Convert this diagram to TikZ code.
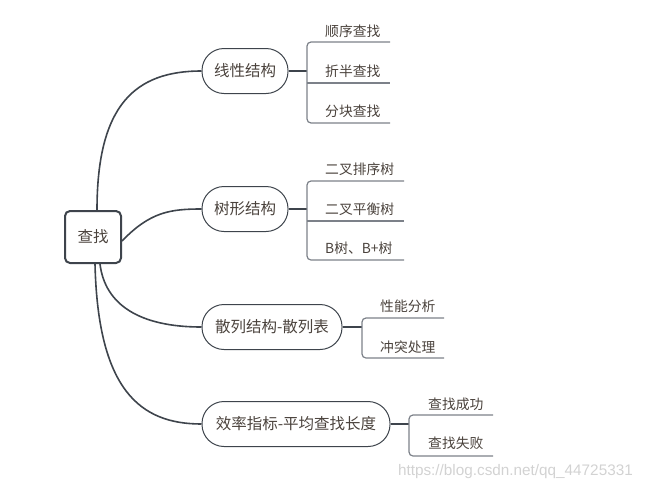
\documentclass[tikz,border=0pt]{standalone}
\usepackage{fontspec}
\setmainfont{Noto Sans CJK SC}
\newfontfamily\wmfont{Liberation Sans}
\definecolor{linec}{HTML}{3E444C}
\definecolor{leafc}{HTML}{7C8189}
\definecolor{txtc}{HTML}{4A423C}
\definecolor{wmc}{HTML}{D2D2D2}
\begin{document}
\begin{tikzpicture}[x=1pt,y=-1pt,
  rootbox/.style={draw=linec, line width=2pt, rounded corners=5pt, minimum width=56pt, minimum height=52pt, inner sep=0pt, text=txtc, font=\fontsize{15.5}{18}\selectfont},
  pill/.style={draw=linec, line width=1pt, rounded corners=22pt, minimum height=45pt, inner sep=0pt, text=txtc, font=\fontsize{15.5}{18}\selectfont},
  leaf/.style={anchor=west, inner sep=0pt, text=txtc, font=\fontsize{13.8}{16}\selectfont},
  conn/.style={draw=linec, line width=1.6pt},
  brk/.style={draw=leafc, line width=1.2pt, rounded corners=4pt},
  uline/.style={draw=leafc, line width=1.2pt}]
\useasboundingbox (0,0) rectangle (647,493);
% root
\node[rootbox] (root) at (93,237) {查找};
% branches
\node[pill, minimum width=86pt] (b1) at (245,71) {线性结构};
\node[pill, minimum width=86pt] (b2) at (245,209) {树形结构};
\node[pill, minimum width=140pt] (b3) at (272,327) {散列结构-散列表};
\node[pill, minimum width=188pt] (b4) at (296,424) {效率指标-平均查找长度};
% root connectors
\draw[conn] ([xshift=4pt]root.north) .. controls (97,105) and (135,71) .. (b1.west);
\draw[conn] ([yshift=-4pt]root.east) .. controls (150,212) and (170,209) .. (b2.west);
\draw[conn] ([xshift=7pt]root.south) .. controls (105,305) and (140,327) .. (b3.west);
\draw[conn] ([xshift=2pt]root.south) .. controls (98,390) and (140,424) .. (b4.west);
% branch 1 leaves
\node[leaf] (l11) at (325,31) {顺序查找};
\node[leaf] (l12) at (325,71) {折半查找};
\node[leaf] (l13) at (325,111) {分块查找};
\coordinate (k1) at (307,71);
\draw[conn, line width=1.4pt] (b1.east) -- (k1);
\draw[brk] (390,42) -- (307,42) -- (307,123) -- (390,123);
\draw[uline] (307,83) -- (390,83);
% branch 2 leaves
\node[leaf] (l21) at (325,169) {二叉排序树};
\node[leaf] (l22) at (325,209) {二叉平衡树};
\node[leaf] (l23) at (325,248) {B树、B+树};
\coordinate (k2) at (307,209);
\draw[conn, line width=1.4pt] (b2.east) -- (k2);
\draw[brk] (404,181) -- (307,181) -- (307,260) -- (404,260);
\draw[uline] (307,221) -- (404,221);
% branch 3 leaves
\node[leaf] (l31) at (380,306) {性能分析};
\node[leaf] (l32) at (380,347) {冲突处理};
\coordinate (k3) at (362,327);
\draw[conn, line width=1.4pt] (b3.east) -- (k3);
\draw[brk] (444,318) -- (362,318) -- (362,358) -- (444,358);
% branch 4 leaves
\node[leaf] (l41) at (428,404) {查找成功};
\node[leaf] (l42) at (428,443) {查找失败};
\coordinate (k4) at (409,424);
\draw[conn, line width=1.4pt] (b4.east) -- (k4);
\draw[brk] (493,415) -- (409,415) -- (409,456) -- (493,456);
% watermark
\node[anchor=east, inner sep=0pt, text=wmc, font=\wmfont\fontsize{15.3}{17}\selectfont] (wm) at (633,472) {https://blog.csdn.net/qq\_44725331};
\end{tikzpicture}
\end{document}
